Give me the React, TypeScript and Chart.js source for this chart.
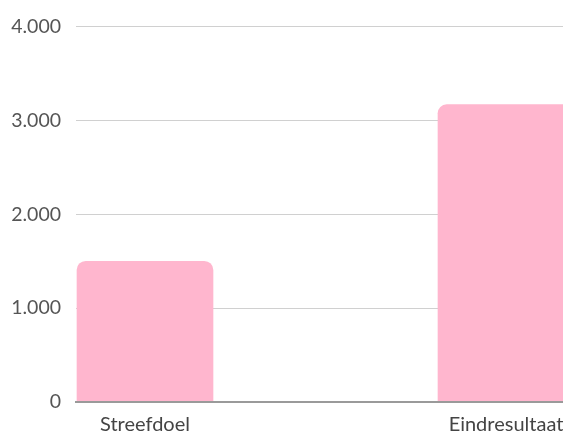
import React, { useEffect, useRef } from 'react';
import { Chart, registerables } from 'chart.js';

Chart.register(...registerables);

const categories: string[] = ['Streefdoel', 'Eindresultaat'];
const values: number[] = [1500, 3170];
const yTickValues: number[] = [0, 1000, 2000, 3000, 4000];

const formatNL = (v: number) =>
  String(Math.round(v)).replace(/\B(?=(\d{3})+(?!\d))/g, '.');

const CANVAS_W = 800;
const CANVAS_H = 434;
const FONT = 'Lato, "Noto Sans", sans-serif';

export default function App() {
  const ref = useRef<HTMLCanvasElement | null>(null);

  useEffect(() => {
    if (!ref.current) return;
    const chartLeft = 76;
    const unit = 361; // pixels between category centres
    const xMin = -(145 - chartLeft) / unit;
    const xMax = xMin + (CANVAS_W - chartLeft) / unit;

    const chart = new Chart(ref.current, {
      type: 'bar',
      data: {
        datasets: [
          {
            data: categories.map((c, i) => ({ x: i, y: values[i] })),
            backgroundColor: 'rgb(255,182,206)',
            borderWidth: 0,
            borderRadius: { topLeft: 9, topRight: 9, bottomLeft: 0, bottomRight: 0 },
            borderSkipped: 'start',
            barThickness: 136,
          },
        ],
      },
      options: {
        responsive: false,
        animation: false,
        devicePixelRatio: 1,
        layout: { padding: { top: 24, left: 0, right: 0, bottom: 0 } },
        plugins: {
          legend: { display: false },
          tooltip: { enabled: false },
        },
        scales: {
          x: {
            type: 'linear',
            offset: false,
            min: xMin,
            max: xMax,
            afterBuildTicks: (scale: any) => {
              scale.ticks = categories.map((_, i) => ({ value: i }));
            },
            afterFit: (scale: any) => {
              scale.height = 32;
            },
            grid: { display: false, drawTicks: false, offset: false },
            border: { display: true, color: '#9a9a9a', width: 2, z: 1 },
            ticks: {
              autoSkip: false,
              maxRotation: 0,
              padding: 11,
              color: '#444',
              font: { family: FONT, size: 20 },
              callback: (v: any) => categories[v as number] ?? '',
            },
          },
          y: {
            min: 0,
            max: 4000,
            afterBuildTicks: (scale: any) => {
              scale.ticks = yTickValues.map((v) => ({ value: v }));
            },
            afterFit: (scale: any) => {
              scale.width = chartLeft;
            },
            grid: { color: '#d0d0d0', lineWidth: 1, drawTicks: false },
            border: { display: false },
            ticks: {
              padding: 15,
              color: '#555',
              font: { family: FONT, size: 19.5 },
              callback: (v: any) => formatNL(Number(v)),
            },
          },
        },
      },
    });
    return () => chart.destroy();
  }, []);

  return (
    <div
      style={{
        position: 'fixed',
        left: 0,
        top: 0,
        width: 563,
        height: 434,
        overflow: 'hidden',
        background: '#fff',
      }}
    >
      <canvas
        ref={ref}
        width={CANVAS_W}
        height={CANVAS_H}
        style={{ display: 'block', width: CANVAS_W, height: CANVAS_H }}
      />
    </div>
  );
}
